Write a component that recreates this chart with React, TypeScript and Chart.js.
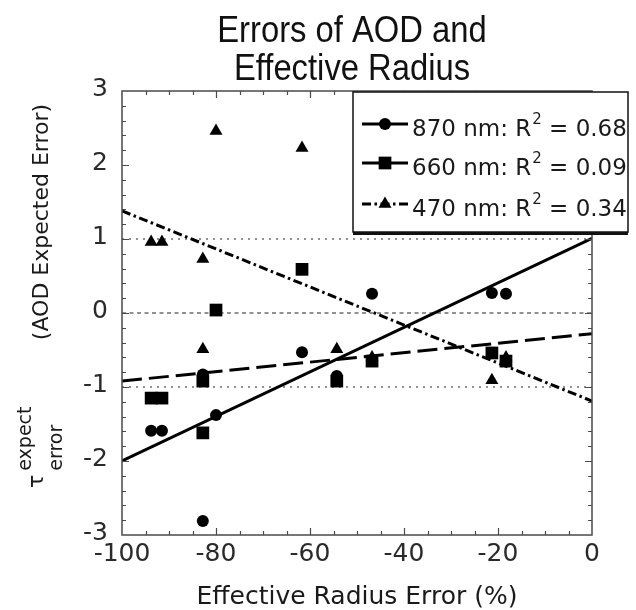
import React, { useEffect, useRef } from 'react';
import { Chart, registerables } from 'chart.js';

Chart.register(...registerables);

// ---------- text ----------
const titleLines = ['Errors of AOD and', 'Effective Radius'];
const xAxisTitle = 'Effective Radius Error (%)';
const yAxisTitle = '(AOD Expected Error)';
const yAxisSymbol = 'τ';
const yAxisSup = 'expect';
const yAxisSub = 'error';

// ---------- axes ----------
const xMin = -100;
const xMax = 0;
const xStep = 20;
const xMinorStep = 5;
const yMin = -3;
const yMax = 3;
const yStep = 1;
const yMinorStep = 0.2;

// ---------- data ----------
const siteX = [-93.8, -91.5, -82.8, -82.8, -80.0, -61.7, -54.3, -46.8, -21.3, -18.3];
const err870 = [-1.59, -1.59, -2.81, -0.83, -1.38, -0.53, -0.85, 0.26, 0.27, 0.26];
const err660 = [-1.15, -1.15, -1.62, -0.92, 0.04, 0.59, -0.92, -0.65, -0.54, -0.65];
const err470 = [0.96, 0.96, 0.73, -0.49, 2.46, 2.23, -0.49, -0.6, -0.91, -0.6];

const fitX = [-100, 0];
const fit870 = [-2.0, 1.01];
const fit660 = [-0.92, -0.28];
const fit470 = [1.38, -1.19];

const refLevels = [1, 0, -1];

const seriesNames = ['870 nm', '660 nm', '470 nm'];
const seriesR2 = ['0.68', '0.09', '0.34'];

// ---------- styles ----------
const FONT = 'DejaVu Sans';
const INK = '#1a1a1a';
const AXIS = '#4a4a4a';
const pointStyles = ['circle', 'rect', 'triangle'];
const pointRadii = [6, 9, 7.5];
const fitDashes = [[], [20, 7], [9, 3.5, 2.5, 3.5]];
const refDashes = [[2, 5], [4, 3.5], [2, 5]];

const pts = (xs: number[], ys: number[]) => xs.map((x, i) => ({ x, y: ys[i] }));

function drawMarker(ctx: CanvasRenderingContext2D, style: string, x: number, y: number, r: number) {
  ctx.beginPath();
  if (style === 'circle') {
    ctx.arc(x, y, r, 0, Math.PI * 2);
  } else if (style === 'rect') {
    const s = r * Math.SQRT1_2;
    ctx.rect(x - s, y - s, 2 * s, 2 * s);
  } else {
    const w = r * Math.sin((Math.PI * 2) / 3);
    ctx.moveTo(x, y - r);
    ctx.lineTo(x + w, y + r / 2);
    ctx.lineTo(x - w, y + r / 2);
    ctx.closePath();
  }
  ctx.fill();
}

const framePlugin = {
  id: 'frameAndLegend',
  afterDatasetsDraw(chart: any) {
    const { ctx, chartArea: a, scales } = chart;
    const xs = scales.x;
    const ys = scales.y;
    ctx.save();
    // frame
    ctx.strokeStyle = AXIS;
    ctx.lineWidth = 1.5;
    ctx.setLineDash([]);
    ctx.strokeRect(a.left, a.top, a.right - a.left, a.bottom - a.top);
    // inward ticks
    ctx.lineWidth = 1.2;
    ctx.beginPath();
    const nx = Math.round((xMax - xMin) / xMinorStep);
    for (let i = 1; i < nx; i++) {
      const v = xMin + i * xMinorStep;
      const px = Math.round(xs.getPixelForValue(v)) + 0.5;
      const len = Math.abs(v % xStep) < 1e-6 ? 7 : 4;
      ctx.moveTo(px, a.bottom);
      ctx.lineTo(px, a.bottom - len);
      ctx.moveTo(px, a.top);
      ctx.lineTo(px, a.top + len);
    }
    const ny = Math.round((yMax - yMin) / yMinorStep);
    for (let i = 1; i < ny; i++) {
      const v = yMin + i * yMinorStep;
      const py = Math.round(ys.getPixelForValue(v)) + 0.5;
      const major = Math.abs(v - Math.round(v / yStep) * yStep) < 1e-6;
      const len = major ? 7 : 4;
      ctx.moveTo(a.left, py);
      ctx.lineTo(a.left + len, py);
      ctx.moveTo(a.right, py);
      ctx.lineTo(a.right - len, py);
    }
    ctx.stroke();

    // legend
    const L = 353, T = 92, R = 628, B = 232;
    ctx.fillStyle = '#ffffff';
    ctx.fillRect(L, T, R - L, B - T);
    ctx.strokeStyle = '#111';
    ctx.lineWidth = 1.5;
    ctx.strokeRect(L, T, R - L, B - T);
    ctx.fillStyle = '#111';
    ctx.fillRect(L, B, R - L, 3);
    const rowMid = [130, 169, 210];
    for (let i = 0; i < 3; i++) {
      const ty = rowMid[i];
      const ly = ty - 6;
      ctx.strokeStyle = '#000';
      ctx.lineWidth = 3;
      ctx.setLineDash(fitDashes[i]);
      ctx.beginPath();
      ctx.moveTo(362, ly);
      ctx.lineTo(408, ly);
      ctx.stroke();
      ctx.setLineDash([]);
      ctx.fillStyle = '#000';
      drawMarker(ctx, pointStyles[i], 385, ly, pointRadii[i]);
      // text
      ctx.fillStyle = INK;
      ctx.textBaseline = 'middle';
      ctx.textAlign = 'left';
      ctx.font = `23px "${FONT}"`;
      let tx = 412;
      const p1 = `${seriesNames[i]}: R`;
      ctx.fillText(p1, tx, ty);
      tx += ctx.measureText(p1).width;
      ctx.font = `15px "${FONT}"`;
      ctx.fillText('2', tx + 1, ty - 10);
      tx += ctx.measureText('2').width + 1;
      ctx.font = `23px "${FONT}"`;
      ctx.fillText(` = ${seriesR2[i]}`, tx, ty);
    }
    ctx.restore();
  },
};

const textPlugin = {
  id: 'texts',
  afterDraw(chart: any) {
    const { ctx, chartArea: a } = chart;
    // title (condensed)
    ctx.save();
    ctx.fillStyle = '#111';
    ctx.font = '36px "Liberation Sans", Arimo, sans-serif';
    ctx.textAlign = 'center';
    ctx.textBaseline = 'alphabetic';
    const cx = (a.left + a.right) / 2 - 5;
    const sx = 0.91;
    ctx.translate(cx, 0);
    ctx.scale(sx, 1);
    ctx.fillText(titleLines[0], 0, 42);
    ctx.fillText(titleLines[1], 0, 80);
    ctx.restore();

    // y-axis title
    ctx.save();
    ctx.fillStyle = INK;
    ctx.translate(42, 222);
    ctx.rotate(-Math.PI / 2);
    ctx.font = `22px "${FONT}"`;
    ctx.textAlign = 'center';
    ctx.textBaseline = 'middle';
    ctx.fillText(yAxisTitle, 0, 0);
    ctx.restore();

    ctx.save();
    ctx.fillStyle = INK;
    ctx.translate(43, 488);
    ctx.rotate(-Math.PI / 2);
    ctx.textAlign = 'left';
    ctx.textBaseline = 'alphabetic';
    ctx.font = `22px "${FONT}"`;
    ctx.fillText(yAxisSymbol, 0, 0);
    const w = ctx.measureText(yAxisSymbol).width;
    ctx.font = `19px "${FONT}"`;
    ctx.fillText(yAxisSup, w + 4, -12);
    ctx.fillText(yAxisSub, w + 4, 19);
    ctx.restore();
  },
};

export default function App() {
  const ref = useRef<HTMLCanvasElement | null>(null);
  useEffect(() => {
    document.body.style.margin = '0';
    const canvas = ref.current;
    if (!canvas) return;
    Chart.defaults.font.family = FONT;

    const refSets = refLevels.map((lv, i) => ({
      type: 'line' as const,
      data: pts(fitX, [lv, lv]),
      borderColor: '#6d6d6d',
      borderWidth: 1.5,
      borderDash: refDashes[i],
      pointRadius: 0,
      fill: false,
      order: 3,
    }));
    const fits = [fit870, fit660, fit470];
    const errs = [err870, err660, err470];
    const fitSets = fits.map((f, i) => ({
      type: 'line' as const,
      label: seriesNames[i] + ' fit',
      data: pts(fitX, f),
      borderColor: '#000',
      borderWidth: 3,
      borderDash: fitDashes[i],
      pointRadius: 0,
      fill: false,
      order: 1,
    }));
    const ptSets = errs.map((e, i) => ({
      type: 'scatter' as const,
      label: seriesNames[i],
      data: pts(siteX, e),
      pointStyle: pointStyles[i],
      pointRadius: pointRadii[i],
      backgroundColor: '#000',
      borderColor: '#000',
      borderWidth: 0,
      showLine: false,
      order: 2,
    }));

    const chart = new Chart(canvas, {
      type: 'scatter',
      data: { datasets: [...refSets, ...ptSets, ...fitSets] as any },
      options: {
        animation: false,
        responsive: false,
        maintainAspectRatio: false,
        layout: { padding: { top: 91, right: 44, left: 0, bottom: 0 } },
        plugins: {
          legend: { display: false },
          tooltip: { enabled: false },
          title: { display: false },
        },
        scales: {
          x: {
            type: 'linear',
            min: xMin,
            max: xMax,
            ticks: {
              stepSize: xStep,
              color: '#2a2a2a',
              font: { family: FONT, size: 25 },
              padding: 4,
              maxRotation: 0,
              autoSkip: false,
            },
            grid: { display: false, drawTicks: false },
            border: { display: false },
            title: {
              display: true,
              text: xAxisTitle,
              color: INK,
              font: { family: FONT, size: 25, lineHeight: 1 },
              padding: { top: 0, bottom: 0 },
            },
            afterFit: (s: any) => {
              s.height = 75;
            },
          },
          y: {
            type: 'linear',
            min: yMin,
            max: yMax,
            ticks: {
              stepSize: yStep,
              color: '#2a2a2a',
              font: { family: FONT, size: 25 },
              padding: 14,
              labelOffset: -2,
            },
            grid: { display: false, drawTicks: false },
            border: { display: false },
            afterFit: (s: any) => {
              s.width = 122;
            },
          },
        },
      },
      plugins: [framePlugin, textPlugin],
    });
    return () => chart.destroy();
  }, []);

  return (
    <div style={{ width: 636, height: 610 }}>
      <canvas ref={ref} width={636} height={610} style={{ display: 'block' }} />
    </div>
  );
}
